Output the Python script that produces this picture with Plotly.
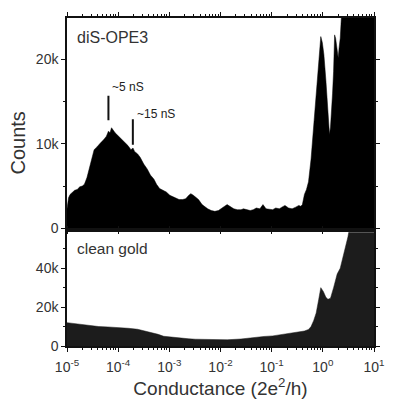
import plotly.graph_objects as go
from plotly.subplots import make_subplots
import numpy as np

# Top panel: diS-OPE3 histogram (log10 conductance, counts in k)
top_logG = [-5.0, -4.97, -4.94, -4.85, -4.80, -4.75, -4.70, -4.66, -4.61, -4.57, -4.52, -4.47, -4.42, -4.38,
            -4.33, -4.28, -4.23, -4.19, -4.16, -4.13, -4.10, -4.06, -4.01, -3.96, -3.92, -3.87, -3.81,
            -3.75, -3.71, -3.68, -3.62, -3.57, -3.50, -3.43, -3.37, -3.30, -3.25, -3.19, -3.12, -3.06,
            -2.99, -2.92, -2.87, -2.81, -2.74, -2.68, -2.62, -2.58, -2.53, -2.49, -2.43, -2.36, -2.30,
            -2.25, -2.18, -2.11, -2.04, -1.98, -1.92, -1.87, -1.80, -1.74, -1.67, -1.60, -1.55, -1.49,
            -1.42, -1.36, -1.30, -1.23, -1.17, -1.11, -1.04, -0.98, -0.92, -0.85, -0.80, -0.74, -0.67,
            -0.60, -0.53, -0.47, -0.43, -0.40, -0.36, -0.32, -0.28, -0.23, -0.17, -0.13, -0.09, -0.06,
            -0.04, -0.01, 0.02, 0.06, 0.09, 0.11, 0.13, 0.15, 0.17, 0.19, 0.21, 0.23, 0.25, 0.28, 0.30,
            0.32, 0.34, 0.38, 0.45, 0.53, 0.70, 0.85, 1.0]
top_counts = [2.3, 3.6, 4.0, 4.5, 4.6, 4.9, 5.0, 5.2, 6.0, 7.0, 8.4, 9.3, 9.6, 9.9,
              10.2, 10.5, 10.9, 11.5, 11.3, 11.9, 11.6, 11.3, 11.0, 10.7, 10.5, 10.1, 9.8,
              9.3, 9.5, 9.1, 8.8, 8.4, 7.6, 7.0, 6.3, 5.8, 5.2, 4.7, 4.5, 4.3,
              3.9, 3.7, 3.5, 3.4, 3.4, 3.5, 3.9, 4.1, 3.9, 3.7, 3.4, 2.8, 2.5,
              2.3, 2.1, 2.0, 2.1, 2.3, 2.6, 2.8, 2.5, 2.3, 2.2, 2.2, 2.3, 2.2,
              2.1, 2.2, 2.4, 2.3, 2.8, 2.3, 2.2, 2.2, 2.4, 2.3, 2.5, 2.7, 2.4,
              2.3, 2.5, 2.7, 2.6, 2.8, 4.0, 4.6, 5.5, 8.2, 12.8, 16.0, 18.6, 21.0,
              22.7, 22.0, 20.6, 17.5, 14.8, 12.5, 11.1, 12.0, 13.6, 16.0, 18.6, 22.9, 22.5, 21.4, 20.2,
              21.5, 22.5, 27.0, 30.0, 32.0, 34.0, 35.0, 35.0]

# Bottom panel: clean gold histogram (counts in k)
bot_logG = [-5.0, -4.85, -4.66, -4.50, -4.38, -4.20, -4.0, -3.80, -3.62, -3.48, -3.34, -3.22, -3.11,
            -2.95, -2.77, -2.62, -2.49, -2.21, -1.87, -1.60, -1.36, -1.15, -0.98, -0.80, -0.60,
            -0.45, -0.36, -0.28, -0.23, -0.18, -0.13, -0.08, -0.04, 0.01, 0.06, 0.10, 0.15, 0.21,
            0.28, 0.34, 0.43, 0.49, 0.53, 0.75, 1.0]
bot_counts = [12.0, 11.5, 11.0, 10.5, 10.0, 9.8, 9.6, 9.1, 8.6, 7.8, 7.0, 6.0, 5.0,
              4.5, 4.0, 3.7, 3.5, 3.3, 3.2, 3.6, 4.5, 4.9, 5.2, 6.0, 7.0,
              7.4, 7.7, 8.5, 10.0, 13.0, 17.0, 24.0, 30.0, 28.0, 25.0, 24.0, 24.6, 30.0,
              37.0, 40.0, 49.0, 56.0, 62.0, 70.0, 70.0]

x_tickvals = [1e-5, 1e-4, 1e-3, 1e-2, 1e-1, 1e0, 1e1]
x_ticktext = ["10<sup>-5</sup>", "10<sup>-4</sup>", "10<sup>-3</sup>", "10<sup>-2</sup>",
              "10<sup>-1</sup>", "10<sup>0</sup>", "10<sup>1</sup>"]

# Peak markers (conductance in G0 units, count range in k)
mark_labels = ["~5 nS", "~15 nS"]
mark_G = [5e-9 / 77.48e-6, 15e-9 / 77.48e-6]
mark_lo = [12.8, 9.9]
mark_hi = [15.7, 12.9]

txt = "#333333"

fig = make_subplots(rows=2, cols=1, shared_xaxes=True, vertical_spacing=0.0)
fig.update_layout(
    yaxis=dict(domain=[0.359, 1.0]),
    yaxis2=dict(domain=[0.0, 0.347]),
)

fig.add_trace(go.Scatter(x=[10 ** v for v in top_logG], y=[c * 1000 for c in top_counts],
                         mode="lines", line=dict(width=0.5, color="#000000"),
                         fill="tozeroy", fillcolor="#000000", showlegend=False), row=1, col=1)
fig.add_trace(go.Scatter(x=[10 ** v for v in bot_logG], y=[c * 1000 for c in bot_counts],
                         mode="lines", line=dict(width=0.5, color="#1c1c1c"),
                         fill="tozeroy", fillcolor="#1c1c1c", showlegend=False), row=2, col=1)

for g, lo, hi in zip(mark_G, mark_lo, mark_hi):
    fig.add_trace(go.Scatter(x=[g, g], y=[lo * 1000, hi * 1000], mode="lines",
                             line=dict(width=2, color="#111111"), showlegend=False), row=1, col=1)

fig.add_annotation(x=np.log10(mark_G[0]) + 0.03, y=16.7e3, xref="x", yref="y", text=mark_labels[0],
                   showarrow=False, xanchor="left", yanchor="middle", font=dict(size=12, color="#222222"))
fig.add_annotation(x=np.log10(mark_G[1]) + 0.04, y=13.5e3, xref="x", yref="y", text=mark_labels[1],
                   showarrow=False, xanchor="left", yanchor="middle", font=dict(size=12, color="#222222"))

fig.add_annotation(x=0.025, y=0.905, xref="x domain", yref="y domain", text="diS-OPE3",
                   showarrow=False, xanchor="left", yanchor="middle", font=dict(size=16, color=txt))
fig.add_annotation(x=0.025, y=0.86, xref="x2 domain", yref="y2 domain", text="clean gold",
                   showarrow=False, xanchor="left", yanchor="middle", font=dict(size=15.5, color=txt))

xcommon = dict(type="log", range=[-5, 1], showgrid=False, zeroline=False,
               showline=True, linecolor="#111111", linewidth=1.5, mirror="ticks",
               ticks="outside", ticklen=4, tickcolor="#111111",
               tickvals=x_tickvals, ticktext=x_ticktext,
               minor=dict(ticks="outside", ticklen=2, tickcolor="#111111", dtick="D1", showgrid=False))
fig.update_xaxes(**xcommon)
fig.update_xaxes(showticklabels=False, row=1, col=1)
fig.update_xaxes(showticklabels=True, row=2, col=1, tickfont=dict(size=14, color=txt),
                 ticklabelstandoff=3,
                 title=dict(text="Conductance (2e<sup>2</sup>/h)", font=dict(size=19, color=txt), standoff=4))

ycommon = dict(showgrid=False, zeroline=False, showline=True, linecolor="#111111", linewidth=1.5,
               mirror="ticks", ticks="outside", ticklen=4, tickcolor="#111111",
               tickfont=dict(size=14, color=txt))
fig.update_yaxes(**ycommon)
fig.update_yaxes(range=[0, 24900], tickvals=[0, 10000, 20000], ticktext=["0", "10k", "20k"],
                 minor=dict(ticks="outside", ticklen=2, tickcolor="#111111", dtick=5000),
                 row=1, col=1)
fig.update_yaxes(range=[0, 58500], tickvals=[0, 20000, 40000], ticktext=["0", "20k", "40k"],
                 minor=dict(ticks="outside", ticklen=2, tickcolor="#111111", dtick=10000),
                 row=2, col=1)

fig.add_annotation(x=-0.16, y=0.62, xref="paper", yref="paper", text="Counts", textangle=-90,
                   showarrow=False, font=dict(size=20, color=txt), xanchor="center", yanchor="middle")

fig.update_layout(width=397, height=404, margin=dict(l=67, r=12, t=13, b=57),
                  paper_bgcolor="white", plot_bgcolor="white",
                  font=dict(family="Liberation Sans, Arial, sans-serif", color=txt))

fig.write_html("out.html")
